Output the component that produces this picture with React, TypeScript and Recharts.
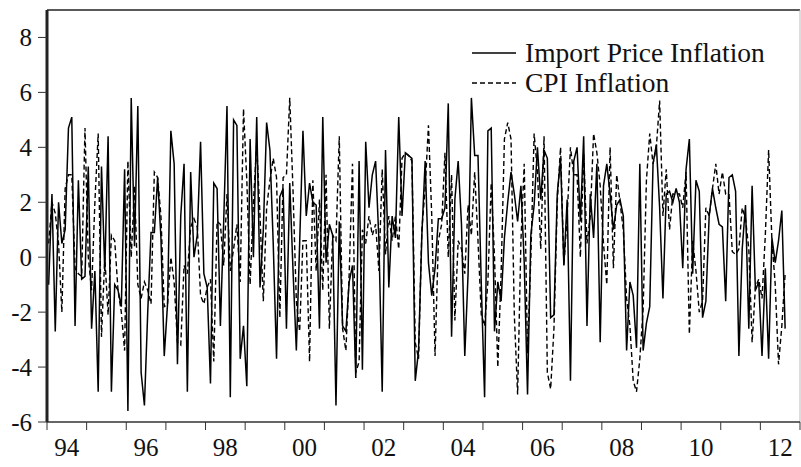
import React from 'react';
import { LineChart, Line, XAxis, YAxis, Legend, ReferenceLine } from 'recharts';

const START_YEAR = 1994;
const END_YEAR = 2013;

const IMPORT_PRICE: number[] = [
  -1.0, 2.3, -2.7, 2.0, 0.5, 1.0, 4.7, 5.1, -2.5, 2.8,
  -0.8, -0.7, 3.3, -2.6, -0.5, -4.9, 3.3, -0.5, 4.4, -4.9,
  -1.0, -1.2, -1.8, 3.2, -5.6, 5.8, 0.4, 5.5, -4.2, -5.4,
  -2.0, 0.9, 0.9, 2.9, 0.7, -3.6, -1.7, 4.6, 3.4, -3.9,
  1.5, 3.4, -4.9, 3.1, 0.0, 0.8, 4.2, -0.6, -1.1, -4.6,
  2.7, 2.5, -2.5, 1.3, 5.5, -5.1, 5.0, 4.8, -3.7, -2.5,
  -4.7, 4.3, 0.0, 5.1, -1.1, 1.0, 4.9, 3.9, 0.5, -3.7,
  2.2, 2.5, -2.6, 2.7, -0.5, -3.4, 0.5, 4.6, 1.5, 2.7,
  2.0, 1.9, -2.6, 5.1, -0.2, 1.2, 0.8, -5.4, 1.3, -2.5,
  -2.7, -0.9, -0.3, -4.4, 3.5, -4.1, 4.2, 1.8, 3.0, 3.5,
  0.6, -4.9, 3.9, -1.1, 1.5, 0.7, 5.1, 1.5, 3.8, 3.7,
  3.6, -4.5, -3.4, 0.8, 3.5, -0.2, -1.4, -0.4, 1.4, 1.4,
  1.8, 5.6, -2.9, 2.1, 3.5, 1.2, -3.6, -0.6, 5.8, 3.7,
  3.7, -1.0, -5.1, 4.6, 4.7, -2.7, -0.9, -1.6, 0.7, 2.0,
  3.1, 2.3, 1.3, 2.6, -0.2, -5.0, 0.8, 1.9, 4.0, 2.1,
  3.9, 3.6, -2.2, -2.1, 2.3, 3.6, -0.3, 2.1, -4.5, 3.5,
  4.0, 1.3, 4.4, -2.5, 2.3, 0.7, 3.4, -3.1, 2.6, 3.4,
  2.3, 1.0, 1.9, 2.1, 1.5, -3.4, -0.9, -1.4, -3.3, 3.4,
  -3.4, -2.4, -1.8, 3.4, 4.1, 1.8, -1.5, 2.3, 2.4, 2.0,
  2.5, 2.0, -0.4, 3.2, 4.3, -0.6, 2.8, 2.4, -2.2, -1.6,
  1.5, 2.5, 1.8, 1.2, 1.1, -1.6, 2.9, 3.0, 2.4, -3.6,
  0.3, 1.9, -2.6, 2.6, -1.2, -0.9, -3.6, -0.4, -3.7, 0.7,
  -0.2, 0.6, 1.7, -2.6,
];

const CPI: number[] = [
  0.5, 2.0, 1.6, 0.5, -2.0, 2.5, 3.0, 3.0, -0.4, -0.6,
  -0.7, 4.7, 0.0, -1.2, 2.0, 4.5, -2.9, 0.0, -2.1, 0.8,
  0.6, -1.2, -2.0, -3.4, 3.5, 0.0, 2.6, -1.0, -1.5, -0.9,
  -1.2, -1.7, 3.1, 2.9, 1.5, -1.8, -1.7, 0.0, -0.9, -3.1,
  -3.2, -0.3, -0.6, 1.1, 1.4, 1.1, -1.4, -1.7, -1.1, -0.8,
  -3.8, 1.3, 1.2, -0.3, 2.3, -0.5, 0.3, 1.2, -0.9, 5.4,
  2.8, -1.0, 2.0, 4.1, 1.5, -1.6, 1.8, 2.8, 3.6, 2.9,
  -2.2, 2.9, 3.0, 5.8, 2.4, -1.6, -2.7, 0.6, 0.6, -3.8,
  2.8, -0.5, 2.1, -1.2, 3.0, -2.6, 0.8, 0.6, 4.4, -2.6,
  -3.4, -0.6, 3.4, -4.2, -3.8, 1.0, 0.5, 1.5, 0.8, 1.2,
  -0.5, 3.2, 0.1, 1.5, 0.6, 1.5, 0.3, 3.6, 3.8, 3.7,
  3.5, -3.1, -3.7, 1.0, 2.5, 4.8, 1.5, -3.6, 0.6, 1.2,
  3.8, 0.0, 3.0, -2.3, 0.6, 0.3, -0.6, 1.9, 0.8, 3.1,
  0.6, -2.1, -2.5, -0.9, 2.7, 0.0, -4.0, -0.6, 4.3, 4.9,
  4.3, -2.1, -5.0, 0.6, 3.4, -3.5, 0.0, 4.5, 3.1, 0.3,
  4.4, -4.2, -4.8, -2.6, 2.0, 4.0, -0.3, 1.5, 4.0, 3.0,
  3.0, 0.0, 3.8, 0.5, 1.5, 4.5, 3.8, 2.6, 0.5, -1.0,
  4.0, -0.4, 3.0, 2.0, 1.0, -1.5, -2.5, -4.5, -4.9, -3.7,
  -1.9, 2.8, 4.5, 3.4, 4.0, 5.7, 1.5, 3.2, 1.0, 2.3,
  2.3, 2.3, 1.8, 3.1, -2.8, 0.6, -0.5, -2.0, -1.6, 1.8,
  1.5, 2.5, 3.4, 2.3, 3.1, 2.3, 2.3, 0.2, 0.1, 0.3,
  1.8, 1.4, 0.3, -3.1, -1.1, -0.8, -1.5, 0.8, 3.9, 0.6,
  -1.0, -3.9, -2.5, -0.6,
];

const Y_TICKS = [-6, -4, -2, 0, 2, 4, 6, 8];
const X_TICKS = Array.from({ length: END_YEAR - START_YEAR + 1 }, (_, i) => START_YEAR + i);
const SERIES_NAMES = { imp: 'Import Price Inflation', cpi: 'CPI Inflation' };

const data = IMPORT_PRICE.map((v, i) => ({
  date: START_YEAR + (i + 0.5) / 12,
  imp: v,
  cpi: CPI[i],
}));

const FONT = '"Liberation Serif", "Times New Roman", serif';
const HALF_YEAR_PX = 19.8;

const XTick = (props: any) => {
  const { x, y, payload } = props;
  const yr = payload.value as number;
  if (yr % 2 !== 0 || yr >= END_YEAR) return null;
  const label = String(yr % 100).padStart(2, '0');
  return (
    <text x={x + HALF_YEAR_PX} y={y + 24} textAnchor="middle" fill="#111" fontSize={25} fontFamily={FONT}>
      {label}
    </text>
  );
};

const LegendContent = () => (
  <div style={{ fontFamily: FONT, fontSize: 27.5, color: '#111', lineHeight: '30px', whiteSpace: 'nowrap' }}>
    {[
      { name: SERIES_NAMES.imp, dash: undefined },
      { name: SERIES_NAMES.cpi, dash: '5 3' },
    ].map((item) => (
      <div key={item.name} style={{ display: 'flex', alignItems: 'center', height: 30 }}>
        <svg width={44} height={4} style={{ marginRight: 9 }}>
          <line x1={0} y1={2} x2={44} y2={2} stroke="#000" strokeWidth={1.4} strokeDasharray={item.dash} />
        </svg>
        <span>{item.name}</span>
      </div>
    ))}
  </div>
);

export default function App() {
  return (
    <div style={{ position: 'absolute', left: 0, top: 0, background: '#fff' }}>
      <LineChart width={801} height={467} data={data} margin={{ top: 10, right: 1, bottom: 0, left: 0 }}>
        <XAxis
          dataKey="date"
          type="number"
          domain={[START_YEAR, END_YEAR]}
          ticks={X_TICKS}
          interval={0}
          allowDataOverflow
          height={45}
          tickSize={8}
          tickMargin={2}
          axisLine={{ stroke: '#333', strokeWidth: 1.5 }}
          tickLine={{ stroke: '#333', strokeWidth: 1 }}
          tick={<XTick />}
        />
        <YAxis
          type="number"
          domain={[-6, 9]}
          ticks={Y_TICKS}
          interval={0}
          allowDataOverflow
          width={47}
          tickSize={9}
          tickMargin={6}
          axisLine={{ stroke: '#222', strokeWidth: 3 }}
          tickLine={{ stroke: '#333', strokeWidth: 1 }}
          tick={{ fill: '#111', fontSize: 25, fontFamily: FONT }}
        />
        <ReferenceLine y={9} stroke="#222" strokeWidth={1.5} />
        <ReferenceLine x={END_YEAR} stroke="#bbb" strokeWidth={1} />
        <Legend
          layout="horizontal"
          verticalAlign="middle"
          align="center"
          content={<LegendContent />}
          wrapperStyle={{ position: 'absolute', left: 472, top: 38, width: 320 }}
        />
        <Line
          dataKey="imp"
          name={SERIES_NAMES.imp}
          stroke="#000"
          strokeWidth={1.5}
          dot={false}
          isAnimationActive={false}
        />
        <Line
          dataKey="cpi"
          name={SERIES_NAMES.cpi}
          stroke="#000"
          strokeWidth={1.4}
          strokeDasharray="5 3"
          dot={false}
          isAnimationActive={false}
        />
      </LineChart>
    </div>
  );
}
